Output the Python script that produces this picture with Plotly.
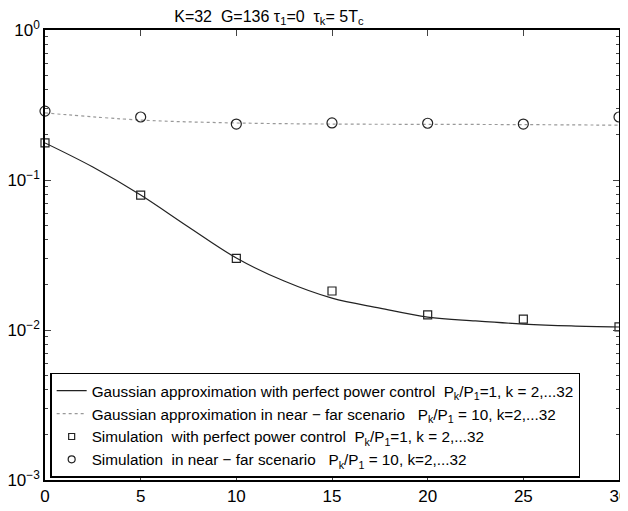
import plotly.graph_objects as go

# Analytical curves
x_curve = [0, 2.5, 5, 7.5, 10, 12.5, 15, 17.5, 20, 22.5, 25, 27.5, 30]
gauss_perfect = [0.1766, 0.122, 0.0794, 0.0486, 0.0302, 0.0212, 0.0163, 0.0140,
                 0.0122, 0.0115, 0.01096, 0.01064, 0.01047]
x_dot = [0, 5, 10, 15, 20, 25, 30]
gauss_nearfar = [0.280, 0.251, 0.240, 0.236, 0.235, 0.234, 0.232]

# Simulation points
x_sim = [0, 5, 10, 15, 20, 25, 30]
sim_perfect = [0.177, 0.0794, 0.030, 0.0182, 0.0126, 0.0118, 0.0105]
sim_nearfar = [0.288, 0.263, 0.236, 0.240, 0.239, 0.236, 0.263]

y_tickvals = [1e-3, 1e-2, 1e-1, 1e0]
y_ticktext = ["10<sup>−3</sup>", "10<sup>−2</sup>", "10<sup>−1</sup>", "10<sup>0</sup>"]
x_tickvals = [0, 5, 10, 15, 20, 25, 30]

names = [
    "Gaussian approximation with perfect power control  P<sub>k</sub>/P<sub>1</sub>=1, k = 2,...32",
    "Gaussian approximation in near − far scenario   P<sub>k</sub>/P<sub>1</sub> = 10, k=2,...32",
    "Simulation  with perfect power control  P<sub>k</sub>/P<sub>1</sub>=1, k = 2,...32",
    "Simulation  in near − far scenario   P<sub>k</sub>/P<sub>1</sub> = 10, k=2,...32",
]

fig = go.Figure()
fig.add_trace(go.Scatter(x=x_curve, y=gauss_perfect, mode="lines", name=names[0],
                         line=dict(color="#222222", width=1.2, shape="spline")))
fig.add_trace(go.Scatter(x=x_dot, y=gauss_nearfar, mode="lines", name=names[1],
                         line=dict(color="#999999", width=1.2, dash="dot", shape="spline")))
fig.add_trace(go.Scatter(x=x_sim, y=sim_perfect, mode="markers", name=names[2],
                         showlegend=False,
                         marker=dict(symbol="square-open", size=8, color="#222222",
                                     line=dict(width=1.2)), cliponaxis=False))
fig.add_trace(go.Scatter(x=x_sim, y=sim_nearfar, mode="markers", name=names[3],
                         showlegend=False,
                         marker=dict(symbol="circle-open", size=10, color="#222222",
                                     line=dict(width=1.2)), cliponaxis=False))
# legend-only entries with the small legend symbols
fig.add_trace(go.Scatter(x=[None], y=[None], mode="markers", name=names[2],
                         marker=dict(symbol="square-open", size=6, color="#222222",
                                     line=dict(width=1.2))))
fig.add_trace(go.Scatter(x=[None], y=[None], mode="markers", name=names[3],
                         marker=dict(symbol="circle-open", size=7, color="#222222",
                                     line=dict(width=1.2))))

# the page body adds an 8 px offset, so the figure is 8 px smaller each way
fig.update_layout(
    width=620, height=503,
    margin=dict(l=37, r=9, t=22, b=31, autoexpand=False),
    paper_bgcolor="white", plot_bgcolor="white",
    font=dict(family="Liberation Sans, Arial, sans-serif", size=14, color="black"),
    title=dict(text="K=32  G=136 τ<sub>1</sub>=0  τ<sub>k</sub>= 5T<sub>c</sub>",
               x=0.39, xref="paper", xanchor="center", y=0.995, yanchor="top",
               font=dict(size=16)),
    showlegend=True,
    legend=dict(x=0.009, y=0.005, xanchor="left", yanchor="bottom",
                bgcolor="white", bordercolor="black", borderwidth=1.5,
                font=dict(size=15.3), tracegroupgap=0, itemwidth=30),
    xaxis=dict(range=[0, 30], tickvals=x_tickvals, ticks="inside", ticklen=6,
               showline=True, linecolor="black", linewidth=1.5, mirror="ticks",
               showgrid=False, zeroline=False, tickfont=dict(size=17),
               tickcolor="#444444", automargin=False, ticklabeloverflow="allow"),
    yaxis=dict(type="log", range=[-3, 0], tickvals=y_tickvals, ticktext=y_ticktext,
               ticks="inside", ticklen=6, showline=True, linecolor="black",
               linewidth=1.5, mirror="ticks", showgrid=False, zeroline=False,
               tickfont=dict(size=17), tickcolor="#444444", automargin=False,
               ticklabeloverflow="allow",
               minor=dict(ticks="inside", ticklen=3, dtick="D1", showgrid=False,
                          tickcolor="#444444")),
)

fig.write_html("out.html")
